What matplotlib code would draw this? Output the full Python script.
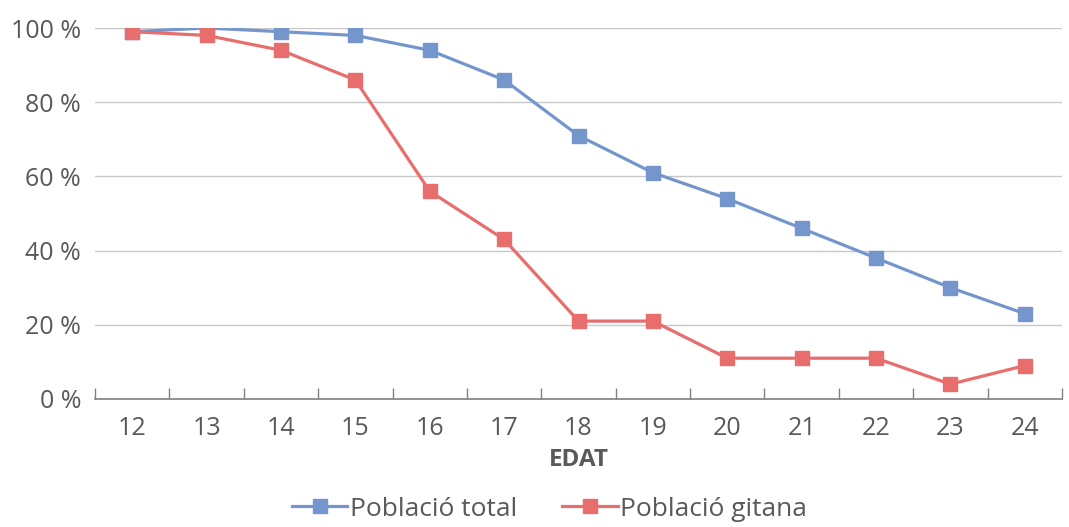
import matplotlib
matplotlib.use("Agg")
import matplotlib.pyplot as plt
from matplotlib.ticker import FixedLocator

ages = ["12", "13", "14", "15", "16", "17", "18", "19", "20", "21", "22", "23", "24"]
poblacio_total = [99, 100, 99, 98, 94, 86, 71, 61, 54, 46, 38, 30, 23]
poblacio_gitana = [99, 98, 94, 86, 56, 43, 21, 21, 11, 11, 11, 4, 9]
yticks = [0, 20, 40, 60, 80, 100]

plt.rcParams['font.family'] = ['Open Sans', 'DejaVu Sans']
grey = '#595959'
blue = '#7496CD'
red = '#E86D6D'

fig = plt.figure(figsize=(10.69, 5.27), dpi=100)
ax = fig.add_axes([95/1069, 128/527, (1062-95)/1069, (399-28)/527])

x = list(range(len(ages)))
ax.plot(x, poblacio_total, color=blue, lw=2.3, marker='s', ms=10.5, label='Població total', zorder=3)
ax.plot(x, poblacio_gitana, color=red, lw=2.3, marker='s', ms=10.5, label='Població gitana', zorder=4)

ax.set_xlim(-0.5, len(ages) - 0.5)
ax.set_ylim(0, 100)
ax.set_yticks(yticks)
ax.set_yticklabels([f"{v} %" for v in yticks])
ax.set_xticks(x)
ax.set_xticklabels(ages)
ax.xaxis.set_minor_locator(FixedLocator([i - 0.5 for i in range(len(ages) + 1)]))

ax.tick_params(axis='y', length=0, labelsize=18, labelcolor=grey, pad=10)
ax.tick_params(axis='x', which='major', length=0, labelsize=18, labelcolor=grey, pad=12)
ax.tick_params(axis='x', which='minor', direction='in', length=8, color='#808080', width=1)

ax.grid(axis='y', color='#c8c8c8', lw=1)
ax.set_axisbelow(True)
for s in ['top', 'right', 'left']:
    ax.spines[s].set_visible(False)
ax.spines['bottom'].set_color('#808080')
ax.spines['bottom'].set_linewidth(1.2)

ax.set_xlabel('EDAT', fontsize=17.5, fontweight='bold', color=grey, labelpad=5)

leg = fig.legend(loc='lower center', bbox_to_anchor=(0.514, -0.035), ncol=2, frameon=False,
                 fontsize=19, handlelength=2.1, handletextpad=0.1, columnspacing=1.7)
for t in leg.get_texts():
    t.set_color(grey)

fig.savefig('out.png', dpi=100)
